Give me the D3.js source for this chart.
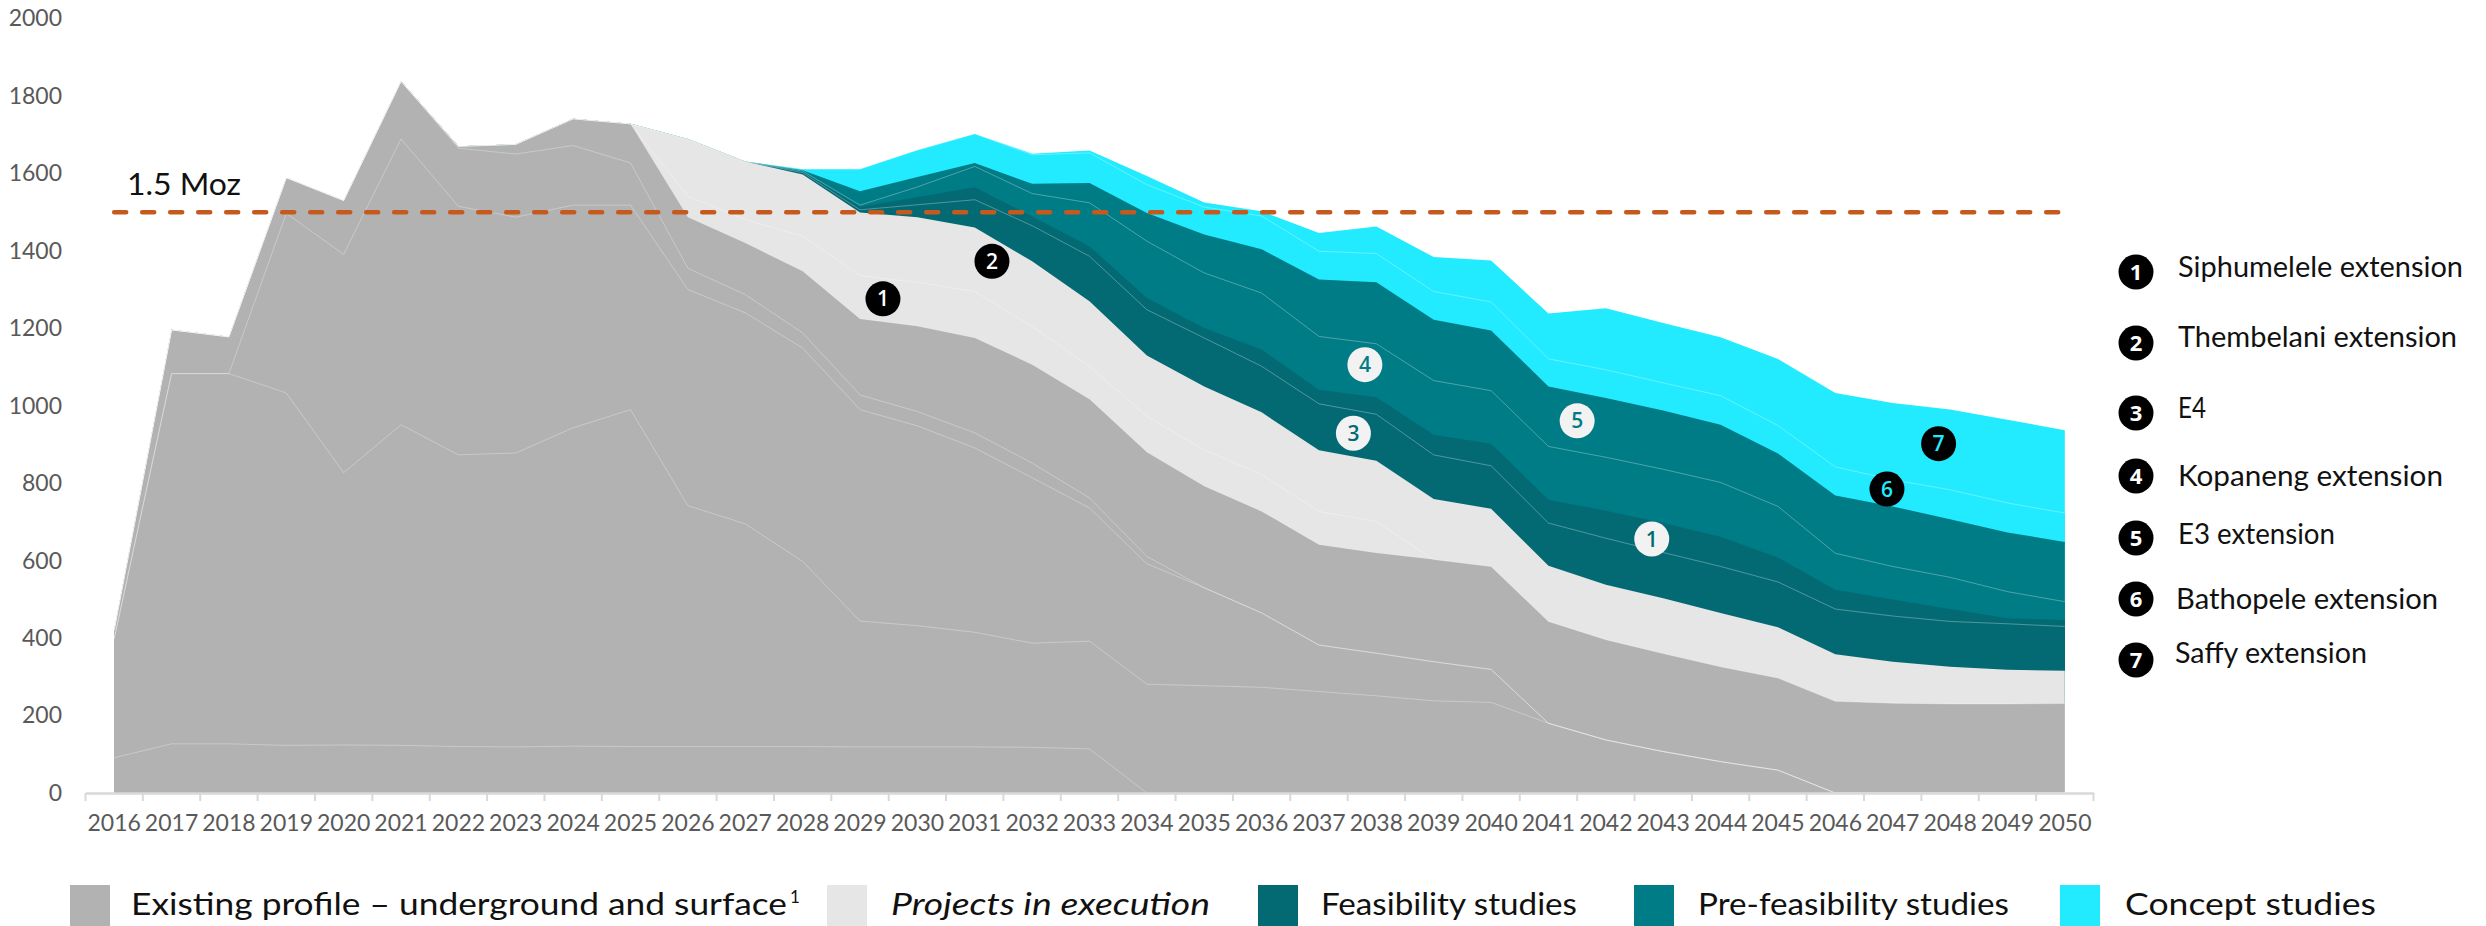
<!DOCTYPE html>
<html>
<head>
<meta charset="utf-8">
<script src="https://cdn.jsdelivr.net/npm/d3@7"></script>
<style>
  body { margin: 0; background: #fff; }
  svg { display: block; font-family: Lato, "Open Sans", sans-serif; }
</style>
</head>
<body>
<div id="chart"></div>
<script>
// years on the x axis
const years = [2016, 2017, 2018, 2019, 2020, 2021, 2022, 2023, 2024, 2025, 2026, 2027,
               2028, 2029, 2030, 2031, 2032, 2033, 2034, 2035, 2036, 2037, 2038, 2039,
               2040, 2041, 2042, 2043, 2044, 2045, 2046, 2047, 2048, 2049, 2050];

// existing profile, split into its sub-layers (koz, bottom to top)
const existing1 = [91, 127, 127, 123, 124, 123, 120, 119, 121, 120, 120, 120, 120, 119, 119, 119, 118, 114,
                   0, 0, 0, 0, 0, 0, 0, 0, 0, 0, 0, 0, 0, 0, 0, 0, 0];
const existing2 = [307, 956, 956, 910, 703, 828, 753, 759, 822, 870, 622, 575, 478, 325, 313, 296, 269, 278,
                   281, 277, 273, 262, 251, 238, 234, 180, 137, 107, 81, 59, 0, 0, 0, 0, 0];
const existing3 = [0, 0, 0, 464, 564, 738, 642, 609, 575, 528, 558, 545, 551, 546, 516, 476, 427, 344,
                   311, 253, 192, 120, 110, 101, 85, 0, 0, 0, 0, 0, 0, 0, 0, 0, 0];
const existing4 = [23, 113, 95, 92, 139, 149, 150, 163, 154, 109, 55, 47, 39, 38, 37, 39, 38, 26,
                   19, 0, 0, 0, 0, 0, 0, 0, 0, 0, 0, 0, 0, 0, 0, 0, 0];
const existing5 = [0, 0, 0, 0, 0, 0, 5, 25, 69, 101, 132, 133, 159, 196, 220, 245, 254, 255,
                   269, 262, 262, 259, 259, 264, 266, 263, 259, 253, 245, 238, 237, 232, 230, 230, 231];

// projects in execution
const execution1 = [0, 0, 0, 0, 0, 0, 0, 0, 0, 0, 54, 61, 91, 112, 114, 120, 99, 85,
                    93, 94, 95, 86, 81, 0, 0, 0, 0, 0, 0, 0, 0, 0, 0, 0, 0];
const execution2 = [0, 0, 0, 0, 0, 0, 0, 0, 0, 0, 148, 150, 159, 163, 168, 165, 168, 168,
                    157, 164, 161, 158, 157, 156, 149, 144, 142, 143, 139, 131, 121, 107, 96, 88, 85];

// feasibility studies
const feasibility1 = [0, 0, 0, 0, 0, 0, 0, 0, 0, 0, 0, 0, 5, 7, 32, 72, 92, 116,
                      118, 125, 119, 120, 120, 114, 111, 110, 120, 118, 120, 117, 117, 118, 117, 119, 114];
const feasibility2 = [0, 0, 0, 0, 0, 0, 0, 0, 0, 0, 0, 0, 2, 7, 20, 32, 24, 26,
                      30, 26, 43, 36, 44, 52, 57, 60, 71, 76, 77, 63, 50, 43, 32, 14, 17];

// pre-feasibility studies
const prefeasibility1 = [0, 0, 0, 0, 0, 0, 0, 0, 0, 0, 0, 0, 2, 5, 26, 54, 59, 112,
                         147, 142, 146, 138, 138, 140, 137, 138, 138, 139, 140, 132, 94, 85, 82, 69, 47];
const prefeasibility2 = [0, 0, 0, 0, 0, 0, 0, 0, 0, 0, 0, 0, 2, 36, 26, 9, 25, 51,
                         73, 99, 113, 147, 159, 157, 155, 155, 153, 152, 149, 137, 149, 155, 150, 153, 154];

// concept studies
const concept1 = [0, 0, 0, 0, 0, 0, 0, 0, 0, 0, 0, 0, 3, 57, 69, 75, 75, 78,
                  73, 71, 86, 73, 74, 73, 74, 71, 73, 71, 75, 72, 74, 69, 76, 76, 75];
const concept2 = [0, 0, 0, 0, 0, 0, 0, 0, 0, 0, 0, 0, 0, 0, 0, 0, 3, 6,
                  22, 12, 12, 47, 70, 89, 107, 117, 159, 155, 151, 172, 191, 198, 207, 215, 214];

const yTicks = [0, 200, 400, 600, 800, 1000, 1200, 1400, 1600, 1800, 2000];
const target = 1500;
const targetLabel = "1.5 Moz";

// numbered markers inside the chart
const markerLabels = ["1", "2", "3", "4", "5", "1", "6", "7"];
const markerYears = [2029.4, 2031.3, 2037.6, 2037.8, 2041.5, 2042.8, 2046.9, 2047.8];
const markerValues = [1276, 1373, 929, 1106, 961, 656, 785, 902];
const markerKinds = ["black", "black", "lightDark", "lightMid", "lightMid", "lightDark", "cyan", "cyan"];

const projectNames = ["Siphumelele extension", "Thembelani extension", "E4", "Kopaneng extension",
                      "E3 extension", "Bathopele extension", "Saffy extension"];

const categoryNames = ["Existing profile \u2013 underground and surface", "Projects in execution",
                       "Feasibility studies", "Pre-feasibility studies", "Concept studies"];

const colours = {
    existing: "#B2B2B2",
    execution: "#E6E6E6",
    feasibility: "#036A74",
    prefeasibility: "#007C86",
    concept: "#22EBFF"
};

const layers = [
    { key: "existing1", group: "existing", values: existing1, divider: true },
    { key: "existing2", group: "existing", values: existing2, divider: true },
    { key: "existing3", group: "existing", values: existing3, divider: true },
    { key: "existing4", group: "existing", values: existing4, divider: true },
    { key: "existing5", group: "existing", values: existing5 },
    { key: "execution1", group: "execution", values: execution1, divider: true },
    { key: "execution2", group: "execution", values: execution2 },
    { key: "feasibility1", group: "feasibility", values: feasibility1, divider: true },
    { key: "feasibility2", group: "feasibility", values: feasibility2 },
    { key: "prefeasibility1", group: "prefeasibility", values: prefeasibility1, divider: true },
    { key: "prefeasibility2", group: "prefeasibility", values: prefeasibility2 },
    { key: "concept1", group: "concept", values: concept1, divider: true },
    { key: "concept2", group: "concept", values: concept2 }
];

const width = 2486,
      height = 926;

let svg = d3.select("#chart")
    .append("svg")
    .attr("width", width)
    .attr("height", height)
    .attr("viewBox", [0, 0, width, height]);

let xBand = d3.scaleBand()
    .domain(years)
    .range([85.5, 2093.5])
    .padding(0);

let x = d3.scaleLinear()
    .domain([years[0], years[years.length - 1]])
    .range([xBand(years[0]) + xBand.bandwidth() / 2, xBand(years[years.length - 1]) + xBand.bandwidth() / 2]);

let y = d3.scaleLinear()
    .domain([0, 2000])
    .range([793, 18.5]);

// table for d3.stack
let table = years.map((yr, i) => {
    let row = { year: yr };
    for (let l of layers) row[l.key] = l.values[i];
    return row;
});

let series = d3.stack().keys(layers.map(l => l.key))(table);
let groupOf = {};
layers.forEach(l => groupOf[l.key] = l.group);

// cumulative areas painted top-down, so neighbours never leave a seam
let area = d3.area()
    .x(d => x(d.data.year))
    .y0(y(0))
    .y1(d => y(d[1]));

svg.append("g")
    .selectAll("path")
    .data(series.slice().reverse())
    .join("path")
    .attr("fill", s => colours[groupOf[s.key]])
    .attr("d", area);

// thin lines between the sub-layers of a category
let line = d3.line()
    .x(d => x(d.data.year))
    .y(d => y(d[1]));

let dividerKeys = layers.filter(l => l.divider).map(l => l.key);

svg.append("g")
    .selectAll("path")
    .data(series.filter(s => dividerKeys.includes(s.key)))
    .join("path")
    .attr("fill", "none")
    .attr("stroke", "#fff")
    .attr("stroke-opacity", 0.3)
    .attr("stroke-width", 1)
    .attr("d", line);

// x axis
let xAxis = svg.append("g")
    .attr("transform", `translate(0,${y(0)})`)
    .call(d3.axisBottom(xBand).tickSize(0).tickSizeOuter(0).tickPadding(22))
    .attr("font-family", "Lato, sans-serif")
    .attr("font-size", 23);

xAxis.select(".domain")
    .attr("stroke", "#D9D9D9")
    .attr("stroke-width", 2.5);

xAxis.selectAll(".tick text")
    .attr("fill", "#595959");

xAxis.selectAll(".edge")
    .data(years.map(d => xBand(d)).concat([xBand.range()[1]]))
    .join("line")
    .attr("class", "edge")
    .attr("x1", d => d)
    .attr("x2", d => d)
    .attr("y1", 0)
    .attr("y2", 8)
    .attr("stroke", "#D9D9D9")
    .attr("stroke-width", 2);

// y axis (labels only)
let yAxis = svg.append("g")
    .attr("transform", "translate(62,0)")
    .call(d3.axisLeft(y).tickValues(yTicks).tickFormat(d3.format("d")).tickSize(0).tickPadding(0))
    .attr("font-family", "Lato, sans-serif")
    .attr("font-size", 23);

yAxis.select(".domain").remove();
yAxis.selectAll(".tick text").attr("fill", "#595959");

// 1.5 Moz target
svg.append("line")
    .attr("x1", x(years[0]))
    .attr("x2", x(years[years.length - 1]))
    .attr("y1", y(target))
    .attr("y2", y(target))
    .attr("stroke", "#C55A1E")
    .attr("stroke-width", 4.5)
    .attr("stroke-linecap", "round")
    .attr("stroke-dasharray", "12 16");

svg.append("text")
    .text(targetLabel)
    .attr("x", 127)
    .attr("y", y(target) - 17)
    .attr("font-size", 31)
    .attr("textLength", 114)
    .attr("lengthAdjust", "spacingAndGlyphs")
    .style("fill", "#111");

// numbered markers
const markerStyle = {
    black: { fill: "#000", text: "#fff" },
    cyan: { fill: "#000", text: "#22EBFF" },
    lightDark: { fill: "#F2F2F2", text: "#036A74" },
    lightMid: { fill: "#F2F2F2", text: "#007C86" }
};

let markers = svg.append("g")
    .selectAll("g")
    .data(markerLabels.map((m, i) => ({ label: m, year: markerYears[i], value: markerValues[i], kind: markerKinds[i] })))
    .join("g")
    .attr("transform", d => `translate(${x(d.year)},${y(d.value)})`);

markers.append("circle")
    .attr("r", 17.5)
    .attr("fill", d => markerStyle[d.kind].fill);

markers.append("text")
    .text(d => d.label)
    .attr("text-anchor", "middle")
    .attr("dy", "0.36em")
    .attr("font-family", "'Open Sans', sans-serif")
    .attr("font-weight", 600)
    .attr("font-size", 21)
    .style("fill", d => markerStyle[d.kind].text);

// project legend on the right
const projRowY = [272, 343, 413, 476, 538, 599, 660];
const projTextDy = [5, 4, 5, 10, 6, 10, 3];
const projTextX = [2178, 2178, 2178, 2178, 2178, 2176, 2175];
const projTextW = [285, 279, 28, 265, 157, 262, 192];

let proj = svg.append("g")
    .selectAll("g")
    .data(projectNames)
    .join("g");

proj.append("circle")
    .attr("cx", 2136)
    .attr("cy", (d, i) => projRowY[i])
    .attr("r", 17.5)
    .attr("fill", "#000");

proj.append("text")
    .text((d, i) => i + 1)
    .attr("x", 2136)
    .attr("y", (d, i) => projRowY[i])
    .attr("dy", "0.36em")
    .attr("text-anchor", "middle")
    .attr("font-family", "'Open Sans', sans-serif")
    .attr("font-weight", 700)
    .attr("font-size", 22)
    .style("fill", "#fff");

proj.append("text")
    .text(d => d)
    .attr("x", (d, i) => projTextX[i])
    .attr("y", (d, i) => projRowY[i] + projTextDy[i])
    .attr("font-size", 29)
    .attr("textLength", (d, i) => projTextW[i])
    .attr("lengthAdjust", "spacingAndGlyphs")
    .style("fill", "#111");

// category legend at the bottom
const catColours = [colours.existing, colours.execution, colours.feasibility, colours.prefeasibility, colours.concept];
const catSwatchX = [70, 827, 1258, 1634, 2060];
const catTextX = [131, 891, 1321, 1698, 2125];
const catTextW = [656, 319, 256, 311, 251];

let cat = svg.append("g")
    .selectAll("g")
    .data(categoryNames)
    .join("g");

cat.append("rect")
    .attr("x", (d, i) => catSwatchX[i])
    .attr("y", 885)
    .attr("width", 40)
    .attr("height", 42)
    .attr("fill", (d, i) => catColours[i]);

let catText = cat.append("text")
    .attr("x", (d, i) => catTextX[i])
    .attr("y", 915)
    .attr("font-size", 31)
    .style("fill", "#111")
    .style("font-style", (d, i) => i === 1 ? "italic" : "normal");

catText.append("tspan")
    .text(d => d)
    .attr("textLength", (d, i) => catTextW[i])
    .attr("lengthAdjust", "spacingAndGlyphs");

catText.filter((d, i) => i === 0)
    .append("tspan")
    .text("1")
    .attr("dx", 3)
    .attr("dy", -12)
    .attr("font-size", 17);
</script>
</body>
</html>
